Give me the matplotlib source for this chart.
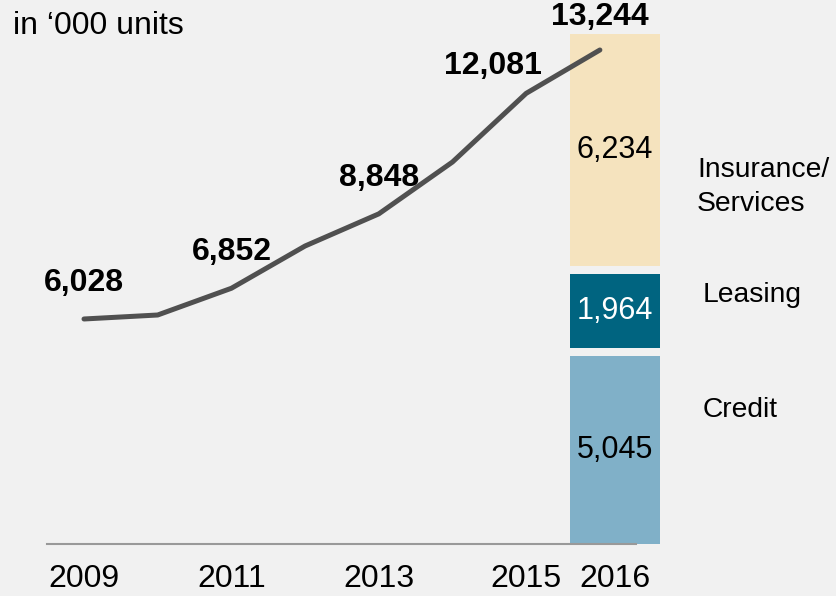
import matplotlib
matplotlib.use("Agg")
import matplotlib.pyplot as plt
from matplotlib import font_manager

plt.rcParams['font.family'] = ['Liberation Sans', 'DejaVu Sans']

# ---- data ----
years = [2009, 2010, 2011, 2012, 2013, 2014, 2015, 2016]
units = [6028, 6135, 6852, 7986, 8848, 10239, 12081, 13244]
labeled_years = [2009, 2011, 2013, 2015, 2016]
label_texts = ["6,028", "6,852", "8,848", "12,081", "13,244"]
segment_names = ["Credit", "Leasing", "Insurance/\nServices"]
segment_values = [5045, 1964, 6234]
segment_texts = ["5,045", "1,964", "6,234"]
tick_years = ["2009", "2011", "2013", "2015", "2016"]

# ---- style ----
bg = '#f1f1f1'
seg_colors = ['#80b0c8', '#006480', '#f5e3be']
seg_text_colors = ['black', 'white', 'black']
label_offsets = [(0, 26), (0, 26), (0, 26), (-24, 20), (0, 24)]  # points
bar_shift = 0.205
bar_width = 1.22
gap = 215

names = {f.name for f in font_manager.fontManager.ttflist}
narrow = 'Liberation Sans Narrow' if 'Liberation Sans Narrow' in names else 'Liberation Sans'
tick_size = 26 if narrow == 'Liberation Sans Narrow' else 23

fig = plt.figure(figsize=(8.36, 5.96), dpi=100, facecolor=bg)
ax = fig.add_axes([47/836, 52.3/596, 589/836, 521.9/596])
ax.set_facecolor(bg)
ax.set_xlim(2008.498, 2016.49)
ax.set_ylim(0, 14000)

for s in ['top', 'left', 'right']:
    ax.spines[s].set_visible(False)
ax.spines['bottom'].set_color('#999999')
ax.spines['bottom'].set_linewidth(1.5)
ax.spines['bottom'].set_zorder(5)
ax.set_yticks([])

# line
ax.plot(years, units, color='#505050', lw=3.6, solid_capstyle='round', zorder=4)

# value labels
for yr, txt, off in zip(labeled_years, label_texts, label_offsets):
    val = units[years.index(yr)]
    ax.annotate(txt, (yr, val), xytext=off, textcoords='offset points',
                ha='center', va='center', fontsize=23, fontweight='bold', zorder=6)

# stacked bar
bar_x = years[-1] + bar_shift
bottom = 0
for i, (v, c, tc, t) in enumerate(zip(segment_values, seg_colors, seg_text_colors, segment_texts)):
    b = bottom + i * gap
    ax.bar(bar_x, v, width=bar_width, bottom=b, color=c, clip_on=False, zorder=2)
    ax.text(bar_x, b + v / 2, t, ha='center', va='center', fontsize=22, color=tc,
            zorder=3, clip_on=False)
    bottom += v

# ticks
ax.set_xticks([2009, 2011, 2013, 2015, bar_x])
ax.set_xticklabels(tick_years, fontsize=tick_size, family=[narrow, 'DejaVu Sans'])
ax.tick_params(axis='x', length=0, pad=14.5)

# title
fig.text(13/836, 1 - 34/596, "in \u2018000 units", fontsize=23, va='baseline', ha='left')

# segment names on the right
name_pos = [(703, 410), (703, 295), (697, 187)]
for name, (px, py) in zip(segment_names, name_pos):
    fig.text(px/836, 1 - py/596, name, fontsize=20.3, ha='left', va='center',
             linespacing=1.43)

fig.savefig("out.png", dpi=100, facecolor=bg)
